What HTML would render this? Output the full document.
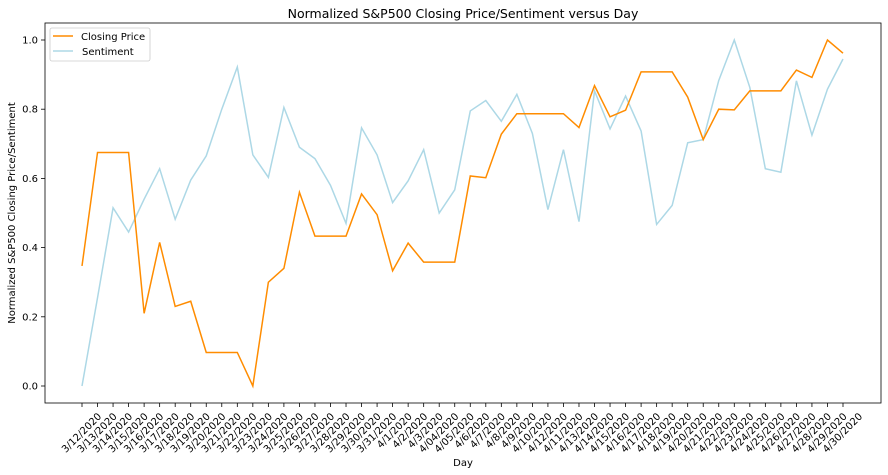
<!DOCTYPE html>
<html><head><meta charset="utf-8"><style>body{margin:0;background:#fff}svg{display:block;font-family:"DejaVu Sans","Liberation Sans",sans-serif}</style></head>
<body>
<svg id="chart" width="888" height="475"></svg>
<script>
const closing=[.347,.675,.675,.675,.21,.415,.23,.245,.097,.097,.097,0,.30,.34,.56,.433,.433,.433,.555,.495,.333,.413,.358,.358,.358,.607,.602,.728,.787,.787,.787,.787,.747,.868,.778,.797,.908,.908,.908,.835,.712,.800,.798,.853,.853,.853,.913,.892,1.0,.962];
const sentiment=[0,.255,.515,.445,.54,.628,.482,.595,.665,.8,.922,.668,.603,.805,.69,.657,.58,.47,.746,.668,.53,.593,.683,.5,.567,.795,.825,.765,.843,.73,.51,.683,.475,.853,.743,.838,.737,.467,.522,.703,.712,.883,1.0,.863,.628,.618,.882,.725,.858,.945];
const yTicks=[0,0.2,0.4,0.6,0.8,1.0];
const days=['3/12/2020','3/13/2020','3/14/2020','3/15/2020','3/16/2020','3/17/2020','3/18/2020','3/19/2020','3/20/2020','3/21/2020','3/22/2020','3/23/2020','3/24/2020','3/25/2020','3/26/2020','3/27/2020','3/28/2020','3/29/2020','3/30/2020','3/31/2020','4/1/2020','4/2/2020','4/3/2020','4/04/2020','4/05/2020','4/6/2020','4/7/2020','4/8/2020','4/9/2020','4/10/2020','4/12/2020','4/11/2020','4/13/2020','4/14/2020','4/15/2020','4/16/2020','4/17/2020','4/18/2020','4/19/2020','4/20/2020','4/21/2020','4/22/2020','4/23/2020','4/24/2020','4/25/2020','4/26/2020','4/27/2020','4/28/2020','4/29/2020','4/30/2020'];

const NS='http://www.w3.org/2000/svg',svg=document.getElementById('chart');
const L=45,R=881,T=23,B=403;
const x=i=>82+i*(843-82)/(days.length-1);
const y=v=>386-v*346;
function el(t,a,txt){const e=document.createElementNS(NS,t);for(const k in a)e.setAttribute(k,a[k]);if(txt!=null)e.textContent=txt;svg.appendChild(e);return e;}
let e;
e=el('text',{x:463,y:18,'text-anchor':'middle','font-size':12.5,fill:'#000'},'Normalized S&P500 Closing Price/Sentiment versus Day');


e=el('rect',{x:L,y:T,width:R-L,height:B-T,fill:'none',stroke:'#000','stroke-width':0.8});


yTicks.forEach(v=>{
  e=el('line',{x1:L-4,x2:L,y1:y(v),y2:y(v),stroke:'#000','stroke-width':0.8});
  
  
  e=el('text',{x:L-7,y:y(v)+3.5,'text-anchor':'end','font-size':10},v.toFixed(1));
  
  
});
days.forEach((d,i)=>{
  e=el('line',{x1:x(i),x2:x(i),y1:B,y2:B+4,stroke:'#000','stroke-width':0.8});
  
  
  const tx=x(i)+20,ty=B+14;
  e=el('text',{x:tx,y:ty,'text-anchor':'end','font-size':10,transform:`rotate(-45 ${tx} ${ty})`},d);
  
  
});
e=el('text',{x:463,y:466,'text-anchor':'middle','font-size':10},'Day');


e=el('text',{x:15,y:213,'text-anchor':'middle','font-size':10,transform:'rotate(-90 15 213)'},'Normalized S&P500 Closing Price/Sentiment');


e=el('polyline',{points:sentiment.map((v,i)=>x(i)+','+y(v)).join(' '),fill:'none',stroke:'#add8e6','stroke-width':1.5});


e=el('polyline',{points:closing.map((v,i)=>x(i)+','+y(v)).join(' '),fill:'none',stroke:'#ff8c00','stroke-width':1.5});


e=el('rect',{x:50,y:28,width:100,height:33,rx:2,fill:'#fff',stroke:'#ccc','stroke-width':0.8});


e=el('line',{x1:53,x2:73,y1:36,y2:36,stroke:'#ff8c00','stroke-width':1.5});


e=el('text',{x:81,y:40,'font-size':10},'Closing Price');


e=el('line',{x1:53,x2:73,y1:51,y2:51,stroke:'#add8e6','stroke-width':1.5});


e=el('text',{x:82,y:55,'font-size':10},'Sentiment');


</script>
</body></html>
